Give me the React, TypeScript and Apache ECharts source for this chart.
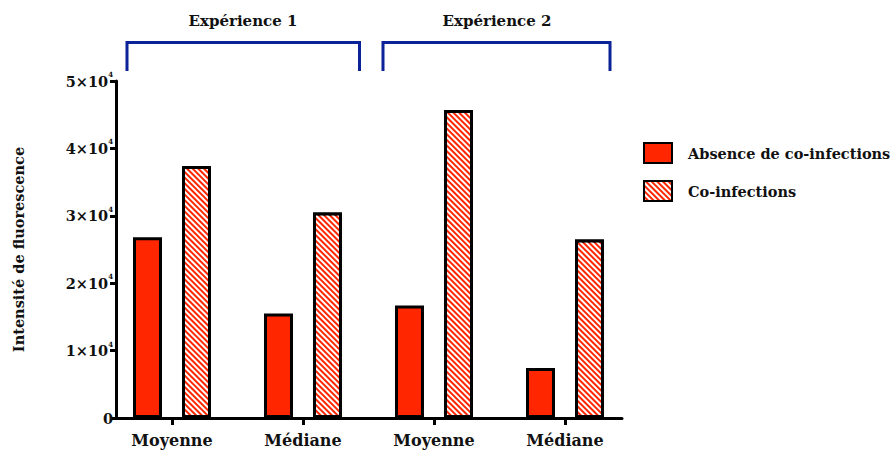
import React, { useEffect, useRef } from "react";
import * as echarts from "echarts";

const categories = ["Moyenne", "Médiane", "Moyenne", "Médiane"];
const absenceValues = [26800, 15500, 16700, 7400];
const coInfectionValues = [37400, 30500, 45700, 26500];
const seriesNames = ["Absence de co-infections", "Co-infections"];
const yTickExponents = ["0", "1", "2", "3", "4", "5"];
const groupTitles = ["Expérience 1", "Expérience 2"];
const yAxisTitle = "Intensité de fluorescence";

const FONT = "DejaVu Serif";
const RED = "#ff2600";
const BLUE = "#0b2396";
const INK = "#111";

export default function App() {
  const ref = useRef<HTMLDivElement>(null);
  useEffect(() => {
    document.body.style.margin = "0";
    if (!ref.current) return;
    const chart = echarts.init(ref.current, undefined, { renderer: "svg" });
    const gridTop = 81;
    const gridHeight = 337;
    const bracket = (x1: number, x2: number) => ({
      type: "polyline",
      shape: { points: [[x1, 71], [x1, 42.5], [x2, 42.5], [x2, 71]] },
      style: { stroke: BLUE, lineWidth: 3, fill: "none" },
    });
    const title = (x: number, text: string) => ({
      type: "text",
      x,
      y: 21,
      style: {
        text,
        fontFamily: FONT,
        fontWeight: "bold",
        fontSize: 15,
        fill: INK,
        align: "center",
        verticalAlign: "middle",
      },
    });
    chart.setOption({
      animation: false,
      backgroundColor: "#fff",
      textStyle: { fontFamily: FONT },
      grid: [
        { left: 106.5, width: 524, top: gridTop, height: gridHeight },
        { left: 116, width: 506, top: gridTop, height: gridHeight },
      ],
      legend: {
        orient: "vertical",
        left: 638,
        top: 137,
        itemWidth: 28,
        itemHeight: 20,
        itemGap: 16,
        icon: "rect",
        data: seriesNames,
        textStyle: {
          fontFamily: FONT,
          fontWeight: "bold",
          fontSize: 14.5,
          color: INK,
          padding: [0, 0, 0, 11],
        },
      },
      xAxis: [
        {
          type: "category",
          gridIndex: 0,
          data: categories,
          axisLine: { show: false },
          axisTick: {
            show: true,
            alignWithLabel: true,
            length: 7,
            lineStyle: { color: "#000", width: 3 },
          },
          axisLabel: {
            fontFamily: FONT,
            fontWeight: "bold",
            fontSize: 16,
            color: INK,
            margin: 14,
          },
        },
        {
          type: "value",
          gridIndex: 1,
          min: 0,
          max: 1,
          axisLine: { show: true, lineStyle: { color: "#000", width: 3 } },
          axisTick: { show: false },
          axisLabel: { show: false },
          splitLine: { show: false },
        },
      ],
      yAxis: [
        {
          type: "value",
          gridIndex: 0,
          min: 0,
          max: 50000,
          interval: 10000,
          show: false,
          splitLine: { show: false },
        },
        {
          type: "value",
          gridIndex: 1,
          min: 0,
          max: 50000,
          interval: 10000,
          name: yAxisTitle,
          nameLocation: "middle",
          nameRotate: 90,
          nameGap: 90,
          nameTextStyle: {
            fontFamily: FONT,
            fontWeight: "bold",
            fontSize: 14.5,
            color: INK,
          },
          axisLine: { show: true, lineStyle: { color: "#000", width: 3 } },
          axisTick: { show: true, length: 6, lineStyle: { color: "#000", width: 3 } },
          splitLine: { show: false },
          axisLabel: {
            margin: 3,
            formatter: (v: number) => {
              const i = Math.round(v / 10000);
              if (i === 0) return "{b|0}";
              return `{b|${yTickExponents[i]}×10}{s|4}`;
            },
            rich: {
              b: { fontFamily: FONT, fontWeight: "bold", fontSize: 14.5, lineHeight: 20, color: INK },
              s: {
                fontFamily: FONT,
                fontWeight: "bold",
                fontSize: 7,
                lineHeight: 8,
                color: INK,
                verticalAlign: "top",
              },
            },
          },
        },
      ],
      series: [
        {
          name: seriesNames[0],
          type: "bar",
          xAxisIndex: 0,
          yAxisIndex: 0,
          data: absenceValues,
          barWidth: 29,
          barGap: "69%",
          itemStyle: { color: RED, borderColor: "#000", borderWidth: 3 },
        },
        {
          name: seriesNames[1],
          type: "bar",
          xAxisIndex: 0,
          yAxisIndex: 0,
          data: coInfectionValues,
          barWidth: 29,
          barGap: "69%",
          itemStyle: {
            color: RED,
            borderColor: "#000",
            borderWidth: 3,
            decal: {
              symbol: "rect",
              symbolSize: 1,
              color: "#ffffff",
              dashArrayX: [1, 0],
              dashArrayY: [1.1, 1.4],
              rotation: Math.PI / 4,
            },
          },
        },
      ],
      graphic: [
        bracket(127, 359.5),
        bracket(383, 610),
        title(243, groupTitles[0]),
        title(497, groupTitles[1]),
      ],
    });
    return () => chart.dispose();
  }, []);
  return <div ref={ref} style={{ width: 893, height: 455 }} />;
}
